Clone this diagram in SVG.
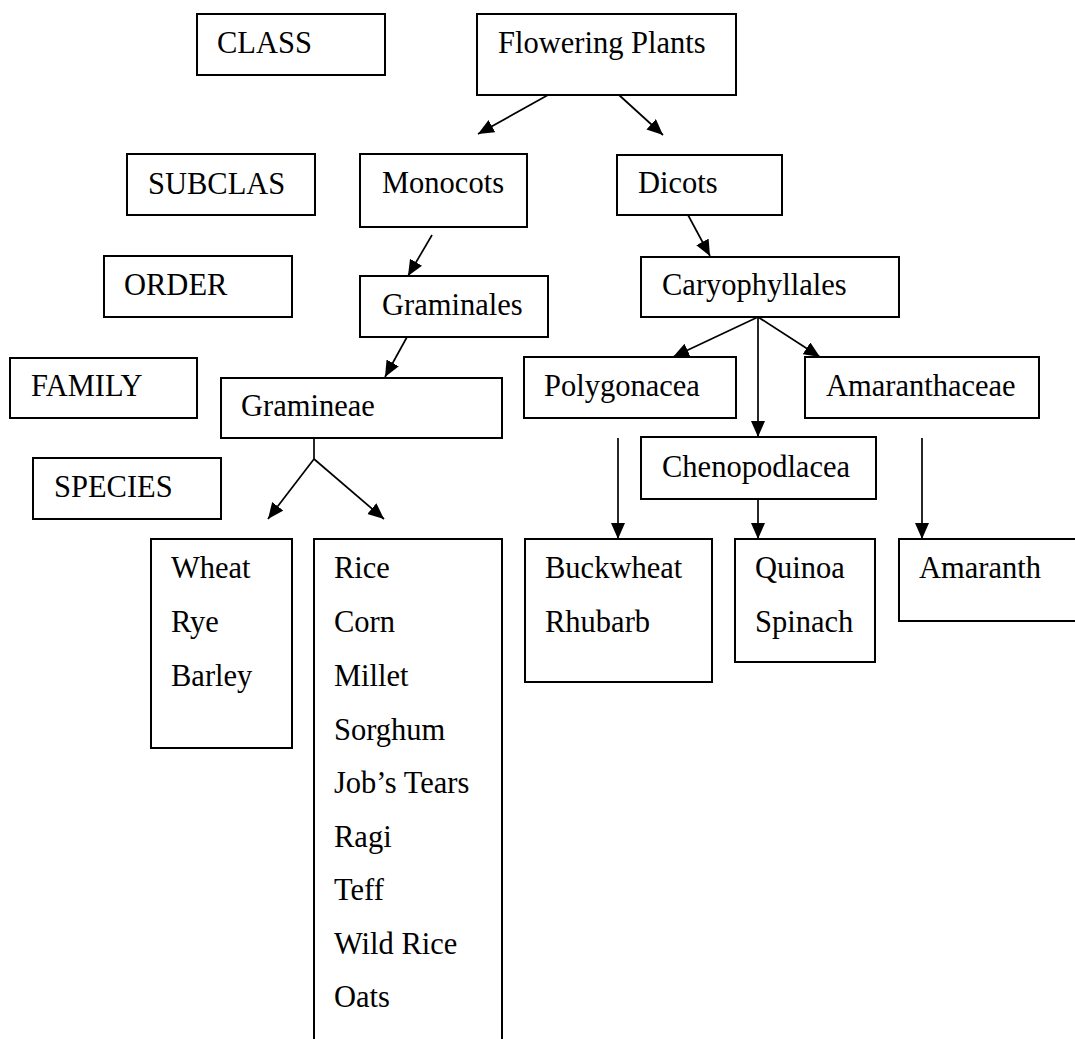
<svg xmlns="http://www.w3.org/2000/svg" width="1075" height="1039" viewBox="0 0 1075 1039">
<style>
.box{fill:#fff;stroke:#000;stroke-width:2}
.t{font-family:"Liberation Serif","Times New Roman",serif;font-size:30.5px;fill:#000}
.c{stroke:#000;stroke-width:1.7;fill:none}
.a{marker-end:url(#ah)}
</style>
<defs>
<marker id="ah" markerUnits="userSpaceOnUse" markerWidth="17" markerHeight="15" refX="16" refY="7" orient="auto">
<path d="M0,0 L16,7 L0,14 z" fill="#000"/>
</marker>
</defs>
<rect width="1075" height="1039" fill="#fff"/>
<g id="n-class"><rect class="box" x="197" y="14" width="188" height="61"/><text class="t" x="217" y="53">CLASS</text></g>
<g id="n-subclas"><rect class="box" x="127" y="154" width="188" height="61"/><text class="t" x="148" y="194">SUBCLAS</text></g>
<g id="n-order"><rect class="box" x="104" y="256" width="188" height="61"/><text class="t" x="124" y="295">ORDER</text></g>
<g id="n-family"><rect class="box" x="10" y="358" width="187" height="60"/><text class="t" x="31" y="396">FAMILY</text></g>
<g id="n-species"><rect class="box" x="33" y="458" width="188" height="61"/><text class="t" x="54" y="497">SPECIES</text></g>
<g id="n-flowering"><rect class="box" x="477" y="14" width="259" height="81"/><text class="t" x="498" y="53">Flowering Plants</text></g>
<g id="n-monocots"><rect class="box" x="360" y="154" width="167" height="73"/><text class="t" x="382" y="193">Monocots</text></g>
<g id="n-dicots"><rect class="box" x="617" y="155" width="165" height="60"/><text class="t" x="638" y="193">Dicots</text></g>
<g id="n-graminales"><rect class="box" x="360" y="276" width="188" height="61"/><text class="t" x="382" y="315">Graminales</text></g>
<g id="n-caryophyllales"><rect class="box" x="641" y="257" width="258" height="60"/><text class="t" x="662" y="295">Caryophyllales</text></g>
<g id="n-gramineae"><rect class="box" x="221" y="378" width="281" height="60"/><text class="t" x="241" y="416">Gramineae</text></g>
<g id="n-polygonacea"><rect class="box" x="524" y="357" width="212" height="61"/><text class="t" x="544" y="396">Polygonacea</text></g>
<g id="n-amaranthaceae"><rect class="box" x="805" y="357" width="234" height="61"/><text class="t" x="826" y="396">Amaranthaceae</text></g>
<g id="n-chenopodlacea"><rect class="box" x="641" y="437" width="235" height="62"/><text class="t" x="662" y="477">Chenopodlacea</text></g>
<g id="n-wheat"><rect class="box" x="151" y="539" width="141" height="209"/>
<text class="t" x="171" y="578">Wheat</text><text class="t" x="171" y="632">Rye</text><text class="t" x="171" y="686">Barley</text></g>
<g id="n-rice"><rect class="box" x="314" y="539" width="188" height="520"/>
<text class="t" x="334" y="578">Rice</text><text class="t" x="334" y="632">Corn</text><text class="t" x="334" y="686">Millet</text><text class="t" x="334" y="740">Sorghum</text><text class="t" x="334" y="793">Job’s Tears</text><text class="t" x="334" y="847">Ragi</text><text class="t" x="334" y="900">Teff</text><text class="t" x="334" y="954">Wild Rice</text><text class="t" x="334" y="1007">Oats</text></g>
<g id="n-buckwheat"><rect class="box" x="525" y="539" width="187" height="143"/>
<text class="t" x="545" y="578">Buckwheat</text><text class="t" x="545" y="632">Rhubarb</text></g>
<g id="n-quinoa"><rect class="box" x="735" y="539" width="140" height="123"/>
<text class="t" x="755" y="578">Quinoa</text><text class="t" x="755" y="632">Spinach</text></g>
<g id="n-amaranth"><rect class="box" x="899" y="539" width="190" height="82"/>
<text class="t" x="919" y="578">Amaranth</text></g>
<g id="connectors">
<line class="c a" x1="548" y1="95" x2="478" y2="134"/>
<line class="c a" x1="619" y1="95" x2="663" y2="135"/>
<line class="c a" x1="432" y1="235" x2="408" y2="276"/>
<line class="c a" x1="688" y1="215" x2="710" y2="256"/>
<line class="c a" x1="407" y1="337" x2="385" y2="377"/>
<line class="c" x1="314" y1="438" x2="314" y2="459"/>
<line class="c a" x1="314" y1="459" x2="268" y2="519"/>
<line class="c a" x1="314" y1="459" x2="384" y2="519"/>
<line class="c a" x1="758" y1="317" x2="673" y2="357"/>
<line class="c a" x1="758" y1="317" x2="758" y2="437"/>
<line class="c a" x1="758" y1="317" x2="820" y2="357"/>
<line class="c a" x1="618" y1="438" x2="618" y2="539"/>
<line class="c a" x1="758" y1="499" x2="758" y2="539"/>
<line class="c a" x1="922" y1="438" x2="922" y2="539"/>
</g>
</svg>
